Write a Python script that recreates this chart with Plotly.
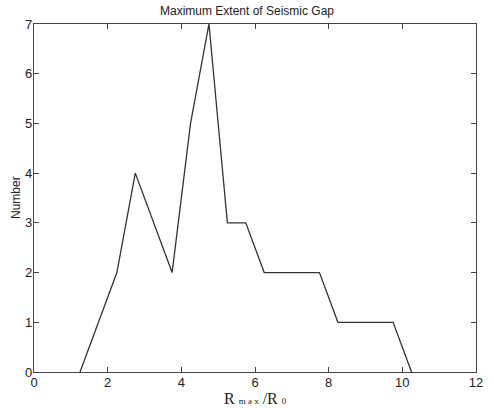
import plotly.graph_objects as go

x_vals = [1.25, 2.25, 2.75, 3.75, 4.25, 4.75, 5.25, 5.75, 6.25, 6.75, 7.25, 7.75, 8.25, 8.75, 9.25, 9.75, 10.25]
y_vals = [0, 2, 4, 2, 5, 7, 3, 3, 2, 2, 2, 2, 1, 1, 1, 1, 0]
x_ticks = [0, 2, 4, 6, 8, 10, 12]
y_ticks = [0, 1, 2, 3, 4, 5, 6, 7]

fig = go.Figure()
fig.add_trace(go.Scatter(x=x_vals, y=y_vals, mode="lines",
                         line=dict(color="#333333", width=1.3), showlegend=False))

fam = "Liberation Sans, Arial, sans-serif"
font = dict(family=fam, size=13, color="#222222")
L, R, T, B = 34, 18, 24, 36
W, H = 494, 408
pw, ph = W - L - R, H - T - B
fig.update_layout(
    width=W, height=H,
    margin=dict(l=L, r=R, t=T, b=B, autoexpand=False),
    paper_bgcolor="white", plot_bgcolor="white",
    font=font,
    title=dict(text="Maximum Extent of Seismic Gap", x=0.5, xanchor="center",
               y=1 - 11/H, yanchor="middle", font=dict(size=12, family=fam, color="#222222")),
)
axis_common = dict(showline=True, linecolor="#444444", linewidth=1.2, mirror="allticks",
                   ticks="inside", ticklen=5, tickcolor="#444444", tickwidth=1,
                   showgrid=False, zeroline=False, automargin=False, ticklabelstandoff=-2)
fig.update_xaxes(range=[0, 12], tickvals=x_ticks, ticktext=[str(v) for v in x_ticks], **axis_common)
fig.update_yaxes(range=[0, 7], tickvals=y_ticks, ticktext=[str(v) for v in y_ticks], **axis_common)

fig.add_annotation(text="R <span style='font-size:9px'>m a x</span> /R <span style='font-size:9px'>0</span>",
                   x=0.5, xref="paper", y=-(398 - (H - B)) / ph, yref="paper", yanchor="middle",
                   showarrow=False,
                   font=dict(family="Liberation Serif, Times New Roman, serif", size=16, color="#222222"))
fig.add_annotation(text="Number", textangle=-90, x=(16 - L) / pw, xref="paper", xanchor="center",
                   y=0.5, yref="paper", yanchor="middle",
                   showarrow=False, font=dict(size=12, family=fam, color="#222222"))

fig.write_html("out.html")
